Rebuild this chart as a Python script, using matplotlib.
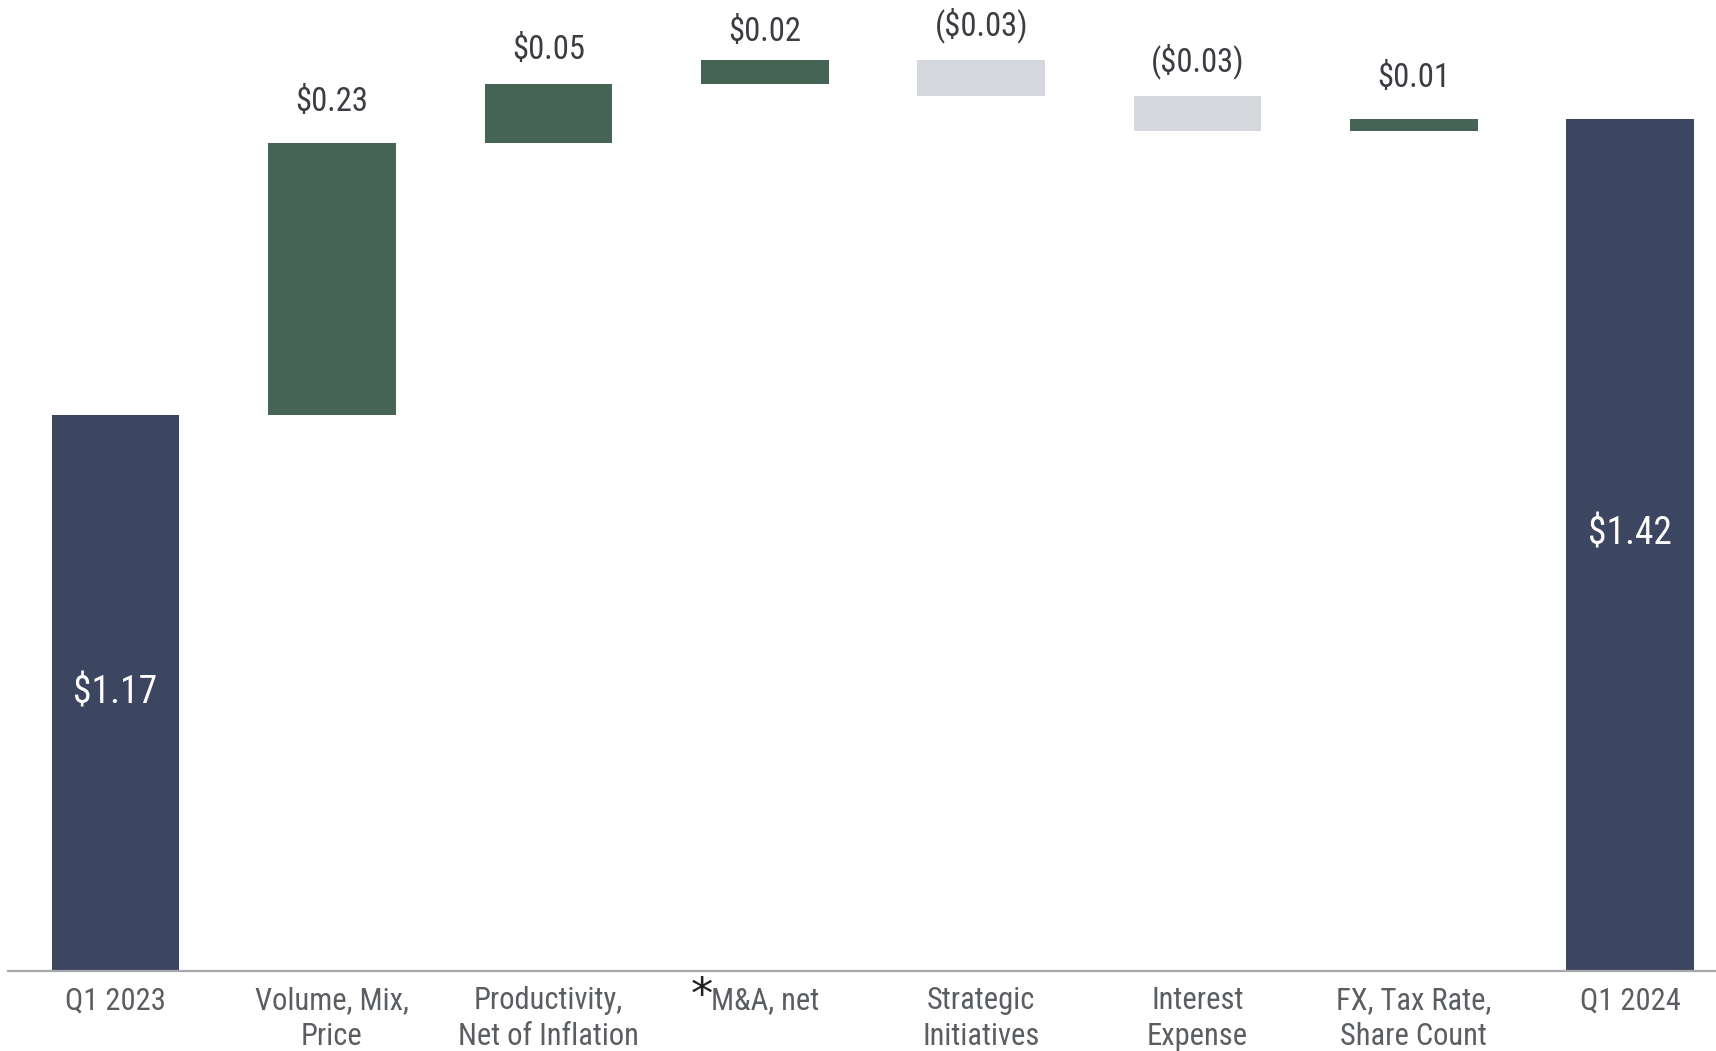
import matplotlib
matplotlib.use('agg')
import matplotlib.pyplot as plt
from matplotlib import font_manager
import matplotlib.transforms as mtransforms

# Q1 2023 -> Q1 2024 adjusted EPS bridge
categories = ['Q1 2023', 'Volume, Mix,\nPrice', 'Productivity,\nNet of Inflation', 'M&A, net',
              'Strategic\nInitiatives', 'Interest\nExpense', 'FX, Tax Rate,\nShare Count', 'Q1 2024']
start_value = 1.17
end_value = 1.42
steps = [0.23, 0.05, 0.02, -0.03, -0.03, 0.01]
footnoted = 'M&A, net'
axis_floor = 0.70

navy = '#3d4660'
green = '#466456'
light = '#d4d7dc'
label_dark = '#3a3d42'
tick_grey = '#5a5d61'

# gap (points) between each step bar and its label
label_gap = [18, 13, 9, 12, 12, 18.5]
# vertical nudge (points) of the labels inside the two total bars
total_nudge = [0, 8]

names = {f.name for f in font_manager.fontManager.ttflist}
family = next(f for f in ['Roboto Condensed', 'Archivo Narrow', 'Barlow Semi Condensed', 'Roboto']
              if f in names)
plt.rcParams['font.family'] = [family, 'DejaVu Sans']

def money(v):
    return f'(${abs(v):.2f})' if v < 0 else f'${v:.2f}'

fig = plt.figure(figsize=(17.16, 10.51), dpi=100)
ax = fig.add_axes([0, 0.0761, 1, 0.9239])

width = 0.59
last = len(categories) - 1
for (x, v), dy in zip([(0, start_value), (last, end_value)], total_nudge):
    ax.bar(x, v - axis_floor, bottom=axis_floor, width=width, color=navy, zorder=2)
    ax.annotate(money(v), (x, (v + axis_floor) / 2), xytext=(0, dy), textcoords='offset points',
                ha='center', va='center', color='white', fontsize=27)

running = start_value
for i, (step, gap) in enumerate(zip(steps, label_gap), start=1):
    lo = min(running, running + step)
    ax.bar(i, abs(step), bottom=lo, width=width, color=green if step > 0 else light, zorder=2)
    top = max(running, running + step)
    ax.annotate(money(step), (i, top), xytext=(0, gap), textcoords='offset points',
                ha='center', va='bottom', fontsize=23.5, color=label_dark)
    running += step

ax.set_xlim(-0.534, 7.396)
ax.set_ylim(axis_floor, 1.5208)
ax.set_xticks(range(len(categories)))
ax.set_xticklabels(categories, fontsize=22, color=tick_grey, linespacing=1.27)
ax.tick_params(axis='x', length=0, pad=11)
ax.set_yticks([])
for side in ['top', 'right', 'left']:
    ax.spines[side].set_visible(False)
ax.spines['bottom'].set_color('#a6aaae')
ax.spines['bottom'].set_linewidth(1.6)
ax.spines['bottom'].set_bounds(-0.497, 7.396)

# footnote marker in front of the M&A label
k = categories.index(footnoted)
trans = mtransforms.blended_transform_factory(ax.transData, ax.transAxes)
ax.text(k - 0.29, -0.004, '*', transform=trans, ha='center', va='top',
        fontsize=32, color='#222222', family='DejaVu Sans')

fig.savefig('out.png', dpi=100, facecolor='white')
